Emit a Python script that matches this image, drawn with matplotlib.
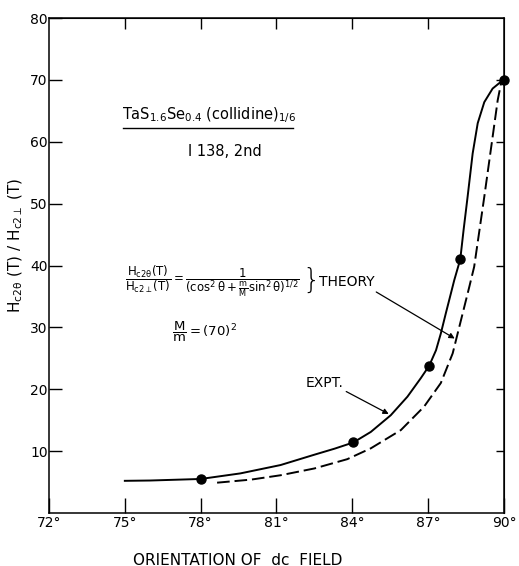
import matplotlib
matplotlib.use("Agg")
import matplotlib.pyplot as plt

plt.rcParams['font.family'] = ['DejaVu Sans']
plt.rcParams['mathtext.default'] = 'regular'

expt_x = [75.0, 76.0, 77.2, 78.0, 79.57, 81.16, 82.48, 83.3, 84.04, 84.73, 85.52,
          86.18, 86.71, 87.04, 87.31, 87.5, 87.70, 87.90, 88.03, 88.27, 88.40,
          88.56, 88.76, 88.96, 89.22, 89.55, 89.88, 90.0]
expt_y = [5.2, 5.25, 5.4, 5.5, 6.4, 7.75, 9.4, 10.4, 11.4, 13.1, 15.8,
          18.8, 21.8, 23.8, 26.3, 29.0, 32.3, 35.5, 37.6, 41.0, 45.7,
          51.1, 58.1, 63.0, 66.4, 68.6, 69.7, 70.0]
theory_x = [78.65, 80.0, 81.16, 82.5, 83.8, 84.73, 85.92, 86.84, 87.5, 87.97,
            88.30, 88.63, 88.82, 89.22, 89.55, 89.75, 89.88, 90.0]
theory_y = [4.9, 5.4, 6.1, 7.2, 8.7, 10.45, 13.4, 17.2, 21.0, 25.8,
            31.2, 36.6, 39.8, 51.1, 60.8, 66.7, 69.4, 70.0]
# measured points
pts_x = [78.0, 84.04, 87.04, 88.27, 90.0]
pts_y = [5.5, 11.4, 23.8, 41.0, 70.0]

xticks = [72, 75, 78, 81, 84, 87, 90]
yticks = [10, 20, 30, 40, 50, 60, 70, 80]

fig = plt.figure(figsize=(5.19, 5.66), dpi=100)
ax = fig.add_axes([49/519, 53/566, 455/519, 495/566])

ax.plot(expt_x, expt_y, color='black', lw=1.4)
ax.plot(theory_x, theory_y, color='black', lw=1.4, dashes=(6.5, 2.5))
ax.plot(pts_x, pts_y, 'o', color='black', ms=6.5, clip_on=False, zorder=5)

ax.set_xlim(72, 90)
ax.set_ylim(0, 80)
ax.set_xticks(xticks)
ax.set_xticklabels([f"{t}°" for t in xticks])
ax.set_yticks(yticks)
ax.set_yticklabels([str(t) for t in yticks])
ax.tick_params(axis='x', direction='in', length=10.8, width=1.0, pad=2, labelsize=10)
ax.tick_params(axis='y', direction='in', length=9.4, width=1.0, pad=1, labelsize=10)
for s in ax.spines.values():
    s.set_linewidth(1.1)

top = ax.secondary_xaxis('top')
top.set_xticks(xticks[1:-1])
top.tick_params(direction='in', length=7.9, width=1.0, labeltop=False)
right = ax.secondary_yaxis('right')
right.set_yticks(yticks[:-1])
right.tick_params(direction='in', length=5.8, width=1.0, labelright=False)

ax.set_ylabel(r"$H_{c2\theta}\ (T)\ /\ H_{c2\perp}\ (T)$", fontsize=11)
ax.yaxis.set_label_coords(-0.052, 0.54)
ax.text(0.415, -0.095, "ORIENTATION OF  dc  FIELD", transform=ax.transAxes,
        ha='center', va='center', fontsize=11)

# sample label
ax.text(0.16, 0.804, r"TaS$_{1.6}$Se$_{0.4}$ (collidine)$_{1/6}$", transform=ax.transAxes,
        ha='left', va='center', fontsize=10.5)
ax.plot([0.162, 0.536], [0.778, 0.778], color='black', lw=1.0, transform=ax.transAxes)
ax.text(0.386, 0.730, "I 138, 2nd", transform=ax.transAxes,
        ha='center', va='center', fontsize=10.5)

# theory formula
ax.text(0.167, 0.468,
        r"$\dfrac{H_{c2\theta}(T)}{H_{c2\perp}(T)} = \dfrac{1}{(\cos^2\theta + \frac{m}{M}\sin^2\theta)^{1/2}}$",
        transform=ax.transAxes, ha='left', va='center', fontsize=8.5)
ax.text(0.556, 0.470, "}", transform=ax.transAxes, ha='left', va='center',
        fontsize=20, fontweight='light')
ax.text(0.27, 0.366, r"$\dfrac{M}{m} = (70)^2$", transform=ax.transAxes,
        ha='left', va='center', fontsize=9.5)

ax.annotate("THEORY", xy=(88.05, 28.2), xytext=(82.67, 37.3),
            ha='left', va='center', fontsize=10,
            arrowprops=dict(arrowstyle='-|>', color='black', lw=0.9,
                            mutation_scale=8, shrinkA=0, shrinkB=0,
                            relpos=(0.95, 0.0)))
ax.annotate("EXPT.", xy=(85.44, 16.0), xytext=(82.15, 21.0),
            ha='left', va='center', fontsize=10,
            arrowprops=dict(arrowstyle='-|>', color='black', lw=0.9,
                            mutation_scale=8, shrinkA=0, shrinkB=0,
                            relpos=(1.0, 0.0)))

fig.savefig("out.png", dpi=100)
